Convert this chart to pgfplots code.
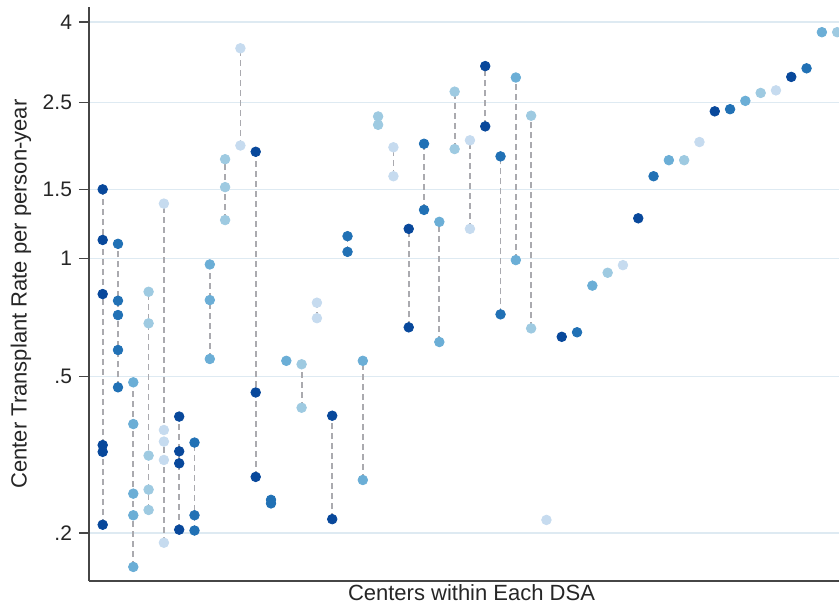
\documentclass[border=0pt]{standalone}
\usepackage{pgfplots}
\pgfplotsset{compat=1.18}
\usepackage{fontspec}
\setmainfont{Liberation Sans}
\definecolor{cDark}{RGB}{8,72,155}
\definecolor{cMDark}{RGB}{33,113,181}
\definecolor{cMLight}{RGB}{107,174,214}
\definecolor{cLight}{RGB}{158,202,225}
\definecolor{cVLight}{RGB}{198,219,239}
\definecolor{gridc}{RGB}{222,234,242}
\definecolor{axc}{RGB}{70,70,70}
\definecolor{dashc}{RGB}{170,170,175}
\begin{document}
\begin{tikzpicture}
\begin{axis}[
  name=ax,
  scale only axis,
  width=375pt, height=287pt,
  ymode=log,
  xmin=-0.895, xmax=48.12,
  ymin=0.1510, ymax=4.369,
  axis x line*=bottom, axis y line*=left,
  axis line style={-, axc, line width=0.8pt},
  xtick=\empty,
  ytick={0.2,0.5,1,1.5,2.5,4},
  yticklabels={.2,.5,1,1.5,2.5,4},
  minor ytick={},
  tick align=outside,
  major tick length=5pt,
  tick style={axc, line width=0.6pt},
  ymajorgrids,
  grid style={gridc, line width=0.6pt},
  yticklabel style={font=\fontsize{10.5}{12}\selectfont, text=black!85},
  xlabel={Centers within Each DSA},
  ylabel={Center Transplant Rate per person-year},
  xlabel style={font=\fontsize{11}{13}\selectfont, text=black!85, at={(axis description cs:0.5,0)}, anchor=base, yshift=-9.5pt, xshift=3.75pt},
  ylabel style={font=\fontsize{11}{13}\selectfont, text=black!85, at={(axis description cs:0,0.5)}, anchor=center, yshift=34pt},
  unbounded coords=jump,
]
% dashed connectors (min to max within each DSA)
\addplot[dashc, line width=0.9pt, dash pattern=on 3pt off 2pt] table[row sep=\\] {
x y\\
0 0.21\\ 0 1.5\\ 0 nan\\
1 0.470\\ 1 1.09\\ 1 nan\\
2 0.164\\ 2 0.484\\ 2 nan\\
3 0.229\\ 3 0.823\\ 3 nan\\
4 0.189\\ 4 1.38\\ 4 nan\\
5 0.204\\ 5 0.396\\ 5 nan\\
6 0.203\\ 6 0.340\\ 6 nan\\
7 0.555\\ 7 0.966\\ 7 nan\\
8 1.253\\ 8 1.79\\ 8 nan\\
9 1.94\\ 9 3.43\\ 9 nan\\
10 0.278\\ 10 1.87\\ 10 nan\\
11 0.238\\ 11 0.243\\ 11 nan\\
13 0.417\\ 13 0.538\\ 13 nan\\
14 0.705\\ 14 0.772\\ 14 nan\\
15 0.217\\ 15 0.398\\ 15 nan\\
16 1.04\\ 16 1.14\\ 16 nan\\
17 0.273\\ 17 0.549\\ 17 nan\\
18 2.19\\ 18 2.30\\ 18 nan\\
19 1.62\\ 19 1.92\\ 19 nan\\
20 0.668\\ 20 1.19\\ 20 nan\\
21 1.33\\ 21 1.96\\ 21 nan\\
22 0.613\\ 22 1.24\\ 22 nan\\
23 1.90\\ 23 2.66\\ 23 nan\\
24 1.19\\ 24 2.00\\ 24 nan\\
25 2.17\\ 25 3.09\\ 25 nan\\
26 0.721\\ 26 1.82\\ 26 nan\\
27 0.991\\ 27 2.89\\ 27 nan\\
28 0.664\\ 28 2.31\\
};
% dark
\addplot[only marks, mark=*, mark size=2.4pt, color=cDark] coordinates {
(0,1.5)(0,1.115)(0,0.812)(0,0.335)(0,0.322)(0,0.21)
(5,0.396)(5,0.323)(5,0.301)(5,0.204)
(10,1.87)(10,0.456)(10,0.278)
(15,0.398)(15,0.217)
(20,1.19)(20,0.668)
(25,3.09)(25,2.17)
(30,0.632)(35,1.266)(40,2.37)(45,2.90)
};
% medium dark
\addplot[only marks, mark=*, mark size=2.4pt, color=cMDark] coordinates {
(1,1.09)(1,0.781)(1,0.718)(1,0.585)(1,0.470)
(6,0.340)(6,0.222)(6,0.203)
(11,0.243)(11,0.238)
(16,1.14)(16,1.04)
(21,1.96)(21,1.33)
(26,1.82)(26,0.721)
(31,0.649)(36,1.62)(41,2.40)(46,3.05)
};
% medium light
\addplot[only marks, mark=*, mark size=2.4pt, color=cMLight] coordinates {
(2,0.484)(2,0.379)(2,0.252)(2,0.222)(2,0.164)
(7,0.966)(7,0.784)(7,0.555)
(12,0.549)
(17,0.549)(17,0.273)
(22,1.24)(22,0.613)
(27,2.89)(27,0.991)
(32,0.853)(37,1.78)(42,2.52)(47,3.77)
};
% light
\addplot[only marks, mark=*, mark size=2.4pt, color=cLight] coordinates {
(3,0.823)(3,0.684)(3,0.315)(3,0.258)(3,0.229)
(8,1.79)(8,1.52)(8,1.253)
(13,0.538)(13,0.417)
(18,2.30)(18,2.19)
(23,2.66)(23,1.90)
(28,2.31)(28,0.664)
(33,0.920)(38,1.78)(43,2.64)(48,3.77)
};
% very light
\addplot[only marks, mark=*, mark size=2.4pt, color=cVLight] coordinates {
(4,1.38)(4,0.366)(4,0.342)(4,0.307)(4,0.189)
(9,3.43)(9,1.94)
(14,0.772)(14,0.705)
(19,1.92)(19,1.62)
(24,2.00)(24,1.19)
(29,0.216)(34,0.962)(39,1.98)(44,2.68)
};
\end{axis}
\pgfresetboundingbox
\path[use as bounding box] ([xshift=-44.5pt,yshift=-13pt]ax.south west) rectangle ([yshift=3.5pt]ax.north east);
\end{tikzpicture}
\end{document}
